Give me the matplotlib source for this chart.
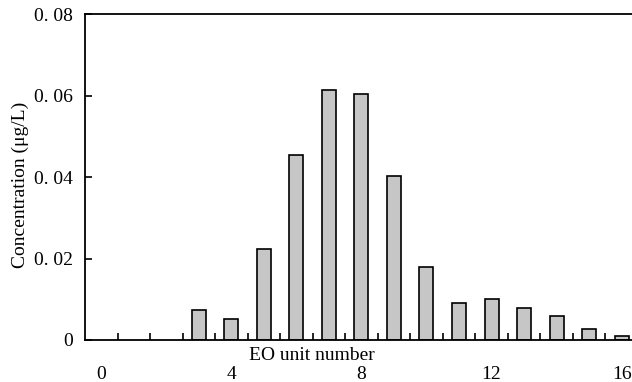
import matplotlib.pyplot as plt
from matplotlib.ticker import FixedLocator, FixedFormatter

# EO unit number vs concentration
units = [3, 4, 5, 6, 7, 8, 9, 10, 11, 12, 13, 14, 15, 16]
conc = [0.0074, 0.0052, 0.0224, 0.0453, 0.0613, 0.0603, 0.0402, 0.0180,
        0.0090, 0.0100, 0.0078, 0.0060, 0.0028, 0.0010]

x_ticks = [0, 4, 8, 12, 16]
x_minor = [i + 0.5 for i in range(17)]
y_ticks = [0, 0.02, 0.04, 0.06, 0.08]
y_labels = ["0", "0. 02", "0. 04", "0. 06", "0. 08"]

plt.rcParams["font.family"] = ["Liberation Serif", "DejaVu Serif"]

fig = plt.figure(figsize=(6.32, 3.82), dpi=100)
ax = fig.add_axes([85 / 632, 42 / 382, 547 / 632, 326 / 382])

ax.bar(units, conc, width=0.43, color="#c6c6c6", edgecolor="black", linewidth=1.2)

ax.set_xlim(-0.5, 16.32)
ax.set_ylim(0, 0.08)

ax.spines["right"].set_visible(False)
for s in ["left", "bottom", "top"]:
    ax.spines[s].set_linewidth(1.3)

ax.xaxis.set_major_locator(FixedLocator(x_ticks))
ax.xaxis.set_minor_locator(FixedLocator(x_minor))
ax.tick_params(axis="x", which="major", length=0, pad=19, labelsize=14)
ax.tick_params(axis="x", which="minor", direction="in", length=5, width=1.2)

ax.yaxis.set_major_locator(FixedLocator(y_ticks))
ax.yaxis.set_major_formatter(FixedFormatter(y_labels))
ax.tick_params(axis="y", direction="in", length=5, width=1.2, pad=9, labelsize=14)

fig.text(312 / 632, 1 - 355 / 382, "EO unit number", ha="center", va="center",
         fontsize=14)
fig.text(20 / 632, 1 - 185 / 382, "Concentration (\u03bcg/L)", rotation=90,
         ha="center", va="center", fontsize=14)

fig.savefig("out.png", dpi=100)
